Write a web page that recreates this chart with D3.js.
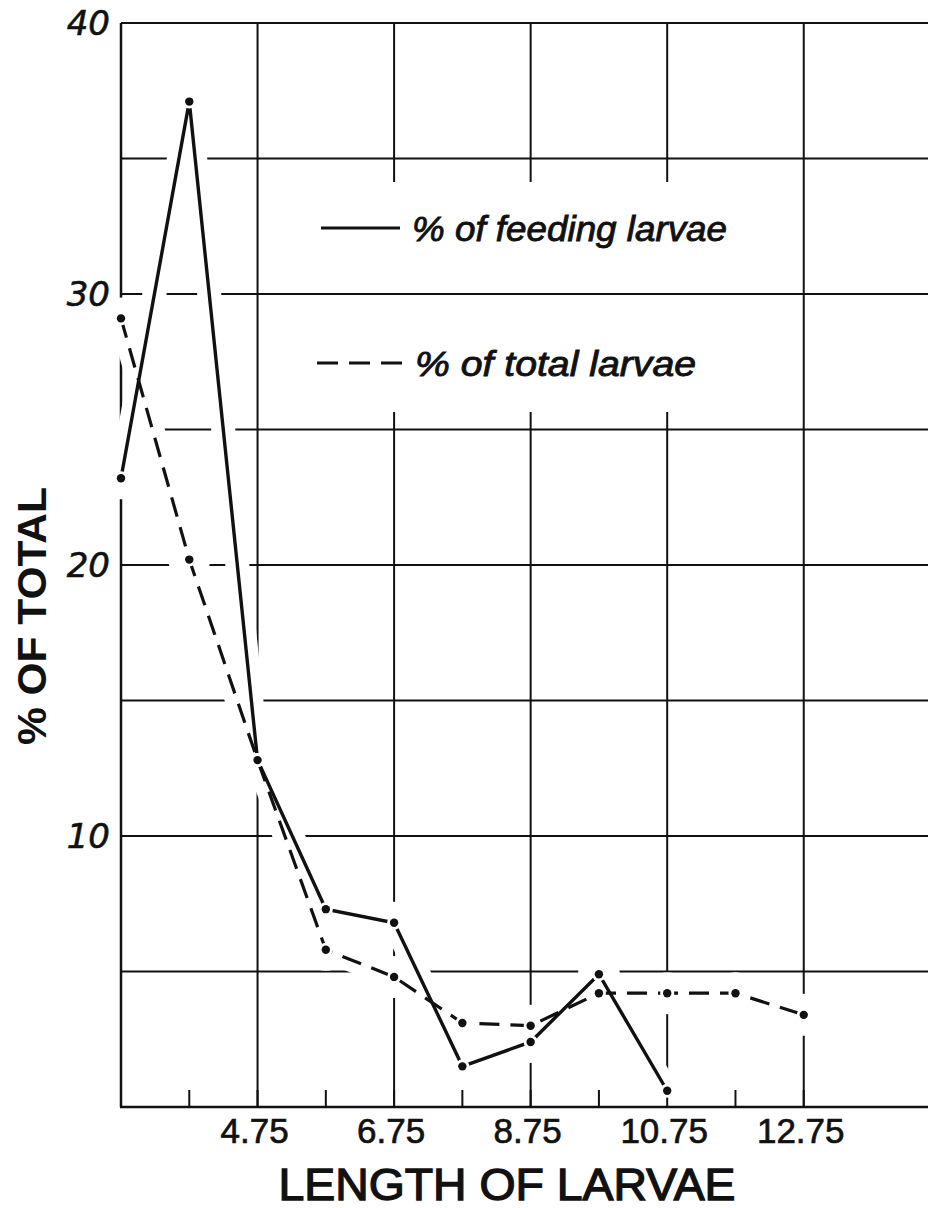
<!DOCTYPE html>
<html>
<head>
<meta charset="utf-8">
<script src="https://cdn.jsdelivr.net/npm/d3@7"></script>
<style>
  html, body { margin: 0; padding: 0; background: #fff; }
  svg { display: block; }
</style>
</head>
<body>
<script>
const width = 928,
      height = 1208;

// lengths of larvae (mm), % values
const lengths = [2.75, 3.75, 4.75, 5.75, 6.75, 7.75, 8.75, 9.75, 10.75, 11.75, 12.75];
const feeding = [23.2, 37.1, 12.8, 7.3, 6.8, 1.5, 2.4, 4.9, 0.6];
const total   = [29.1, 20.2, 12.8, 5.8, 4.8, 3.1, 3.0, 4.2, 4.2, 4.2, 3.4];

const xTicks = [4.75, 6.75, 8.75, 10.75, 12.75];
const xMinor = [3.75, 5.75, 7.75, 9.75, 11.75];
const yGrid = [5, 10, 15, 20, 25, 30, 35, 40];
const yLabels = [10, 20, 30, 40];

const ink = "#111";
const font = "'Liberation Sans', Arial, sans-serif";

var x = d3.scaleLinear().domain([2.75, 14.57]).range([121, 928]);
var y = d3.scaleLinear().domain([0, 40]).range([1107, 23]);

var svg = d3.select("body").append("svg")
  .attr("width", width)
  .attr("height", height);

// vertical grid lines
svg.append("g").selectAll("line")
  .data(xTicks)
  .enter().append("line")
  .attr("x1", d => x(d)).attr("x2", d => x(d))
  .attr("y1", y(40)).attr("y2", y(0))
  .attr("stroke", ink).attr("stroke-width", 2);

// blank area behind the legend (vertical rules are broken there)
svg.append("rect")
  .attr("x", 300).attr("y", 182)
  .attr("width", 460).attr("height", 230)
  .attr("fill", "#fff");

// horizontal grid lines
svg.append("g").selectAll("line")
  .data(yGrid)
  .enter().append("line")
  .attr("x1", x(2.75)).attr("x2", width)
  .attr("y1", d => y(d)).attr("y2", d => y(d))
  .attr("stroke", ink).attr("stroke-width", 2);

// left axis
svg.append("line")
  .attr("x1", x(2.75)).attr("x2", x(2.75))
  .attr("y1", y(40)).attr("y2", y(0))
  .attr("stroke", ink).attr("stroke-width", 2.5);

var feedPts = feeding.map((v, i) => [lengths[i], v]);
var totPts = total.map((v, i) => [lengths[i], v]);

var line = d3.line()
  .x(d => x(d[0]))
  .y(d => y(d[1]));

// white halos: the rules are interrupted where the curves cross them
[feedPts, totPts].forEach(pts => {
  svg.append("path")
    .attr("d", line(pts))
    .attr("fill", "none")
    .attr("stroke", "#fff")
    .attr("stroke-width", 24)
    .attr("stroke-linejoin", "round");
  svg.append("g").selectAll("circle")
    .data(pts)
    .enter().append("circle")
    .attr("cx", d => x(d[0])).attr("cy", d => y(d[1]))
    .attr("r", 21)
    .attr("fill", "#fff");
});

// bottom axis with ticks
svg.append("line")
  .attr("x1", x(2.75) - 1).attr("x2", width)
  .attr("y1", y(0)).attr("y2", y(0))
  .attr("stroke", ink).attr("stroke-width", 2.5);

svg.append("g").selectAll("line")
  .data(xMinor.concat(xTicks))
  .enter().append("line")
  .attr("x1", d => x(d)).attr("x2", d => x(d))
  .attr("y1", y(0) - 17).attr("y2", y(0))
  .attr("stroke", ink).attr("stroke-width", 2);

// data lines
svg.append("path")
  .attr("d", line(feedPts))
  .attr("fill", "none")
  .attr("stroke", ink)
  .attr("stroke-width", 3.4);

svg.append("path")
  .attr("d", line(totPts))
  .attr("fill", "none")
  .attr("stroke", ink)
  .attr("stroke-width", 3.2)
  .attr("stroke-dasharray", "20,11");

// points: small gap round each dot, then the dot
[feedPts, totPts].forEach(pts => {
  svg.append("g").selectAll("circle")
    .data(pts)
    .enter().append("circle")
    .attr("cx", d => x(d[0])).attr("cy", d => y(d[1]))
    .attr("r", 7)
    .attr("fill", "#fff");
  svg.append("g").selectAll("circle")
    .data(pts)
    .enter().append("circle")
    .attr("cx", d => x(d[0])).attr("cy", d => y(d[1]))
    .attr("r", 4.2)
    .attr("fill", ink);
});

// y labels
svg.append("g").selectAll("text")
  .data(yLabels)
  .enter().append("text")
  .attr("x", 110)
  .attr("y", d => y(d) + 12)
  .attr("text-anchor", "end")
  .style("font-family", "'DejaVu Sans', sans-serif")
  .style("font-style", "italic")
  .style("font-size", "34px")
  .attr("fill", ink)
  .attr("stroke", ink).attr("stroke-width", 0.6)
  .text(d => d);

// x labels
svg.append("g").selectAll("text")
  .data(xTicks)
  .enter().append("text")
  .attr("x", d => x(d) - 3)
  .attr("y", 1143)
  .attr("text-anchor", "middle")
  .style("font-family", font)
  .style("font-size", "35px")
  .attr("fill", ink)
  .attr("stroke", ink).attr("stroke-width", 0.7)
  .text(d => d);

// axis titles
svg.append("text")
  .attr("x", 507)
  .attr("y", 1200)
  .attr("text-anchor", "middle")
  .attr("textLength", 457)
  .attr("lengthAdjust", "spacingAndGlyphs")
  .style("font-family", font)
  .style("font-size", "44px")
  .attr("fill", ink)
  .attr("stroke", ink).attr("stroke-width", 1.3)
  .text("LENGTH OF LARVAE");

svg.append("text")
  .attr("transform", "translate(46,616) rotate(-90)")
  .attr("text-anchor", "middle")
  .attr("textLength", 258)
  .attr("lengthAdjust", "spacingAndGlyphs")
  .style("font-family", font)
  .style("font-weight", "bold")
  .style("font-size", "40px")
  .attr("fill", ink)
  .text("% OF TOTAL");

// legend
var legend = svg.append("g");
legend.append("line")
  .attr("x1", 321).attr("x2", 400)
  .attr("y1", 228).attr("y2", 228)
  .attr("stroke", ink).attr("stroke-width", 3);
legend.append("text")
  .attr("x", 412).attr("y", 241)
  .attr("textLength", 315)
  .attr("lengthAdjust", "spacingAndGlyphs")
  .style("font-family", font)
  .style("font-style", "italic")
  .style("font-size", "35px")
  .attr("fill", ink)
  .attr("stroke", ink).attr("stroke-width", 0.9)
  .text("% of  feeding larvae");

legend.append("line")
  .attr("x1", 317).attr("x2", 407)
  .attr("y1", 363).attr("y2", 363)
  .attr("stroke", ink).attr("stroke-width", 3)
  .attr("stroke-dasharray", "21,11");
legend.append("text")
  .attr("x", 415).attr("y", 376)
  .attr("textLength", 281)
  .attr("lengthAdjust", "spacingAndGlyphs")
  .style("font-family", font)
  .style("font-style", "italic")
  .style("font-size", "35px")
  .attr("fill", ink)
  .attr("stroke", ink).attr("stroke-width", 0.9)
  .text("% of  total  larvae");
</script>
</body>
</html>
